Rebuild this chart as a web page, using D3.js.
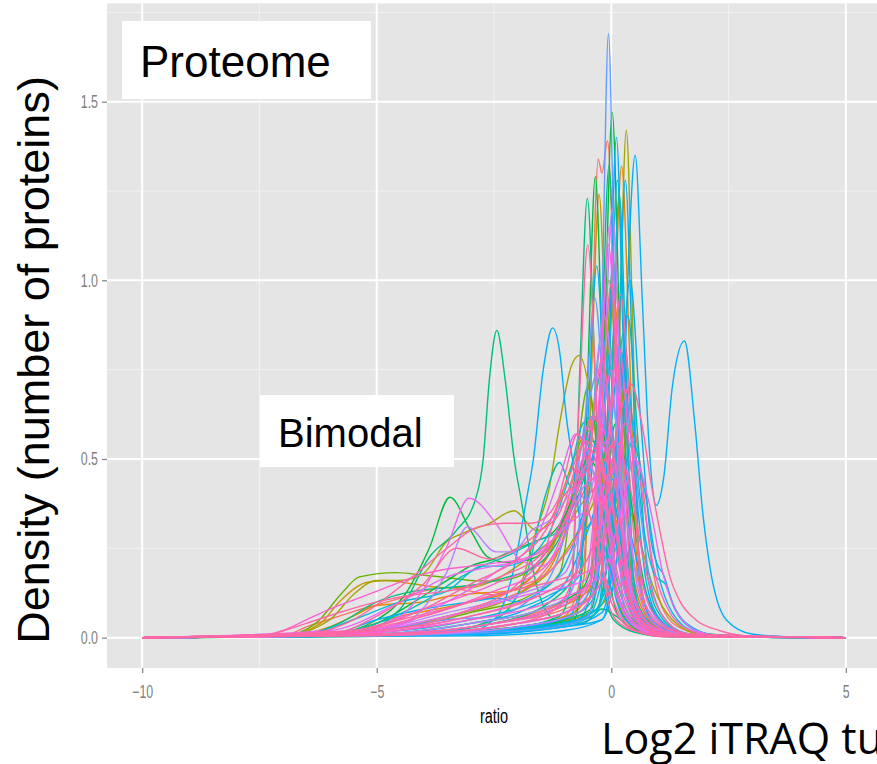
<!DOCTYPE html>
<html>
<head>
<meta charset="utf-8">
<script src="https://cdn.jsdelivr.net/npm/d3@7"></script>
<style>
  body { margin: 0; background: #fff; }
  svg { display: block; }
</style>
</head>
<body>
<div id="chart"></div>
<script>
// axis ticks
const ratioTicks = [-10, -5, 0, 5];
const ratioMinorTicks = [-7.5, -2.5, 2.5];
const densityTicks = [0, 0.5, 1.0, 1.5];
const densityMinorTicks = [0.25, 0.75, 1.25, 1.75];
// every density curve is evaluated from -10 to 5 (density 0 at both ends)
const ratioSpan = [-10, 5];

// samples: [colour level, [[ratio, density], ...]]
// tall, narrow peaks around ratio 0
const tallPeaks = [
  [10, [[-5,0.005],[-2.5,0.015],[-1.2,0.03],[-0.5,0.06],[-0.3,0.23],[-0.18,1.03],[-0.06,1.69],[0.06,1.03],[0.18,0.23],[0.3,0.06],[0.6,0.03],[1.2,0.01],[2,0.002]]],
  [5, [[-5,0.004],[-2.5,0.02],[-1,0.05],[-0.43,0.08],[-0.28,0.2],[-0.13,0.89],[0.02,1.47],[0.17,0.89],[0.32,0.2],[0.5,0.06],[0.9,0.02],[1.6,0.004]]],
  [3, [[-4,0.01],[-2,0.03],[-0.6,0.06],[-0.15,0.1],[0.04,0.19],[0.18,0.86],[0.32,1.42],[0.46,0.86],[0.6,0.19],[0.8,0.06],[1.1,0.02],[1.8,0.004]]],
  [0, [[-5,0.005],[-2.5,0.02],[-1,0.06],[-0.6,0.2],[-0.45,0.6],[-0.34,1.2],[-0.28,1.34],[-0.2,1.3],[-0.08,1.39],[0.05,1.0],[0.18,0.4],[0.35,0.1],[0.7,0.03],[1.3,0.006]]],
  [9, [[-4,0.008],[-1.5,0.03],[-0.5,0.06],[-0.17,0.19],[-0.03,0.85],[0.11,1.4],[0.25,0.85],[0.39,0.19],[0.6,0.05],[1,0.02],[1.6,0.004]]],
  [9, [[-3,0.005],[-1,0.02],[-0.2,0.05],[0.1,0.2],[0.25,0.6],[0.38,1.1],[0.51,1.35],[0.66,0.95],[0.8,0.55],[0.96,0.37],[1.12,0.45],[1.3,0.7],[1.56,0.83],[1.78,0.6],[1.95,0.35],[2.1,0.2],[2.45,0.05],[3,0.01],[3.8,0.002]]],
  [5, [[-5,0.004],[-2.5,0.02],[-1.2,0.04],[-0.79,0.05],[-0.64,0.17],[-0.49,0.78],[-0.34,1.29],[-0.19,0.78],[-0.04,0.17],[0.2,0.05],[0.7,0.015],[1.3,0.003]]],
  [6, [[-4,0.01],[-2,0.03],[-1.1,0.06],[-0.83,0.17],[-0.67,0.75],[-0.51,1.23],[-0.35,0.75],[-0.19,0.17],[0.05,0.05],[0.5,0.015],[1.2,0.003]]],
  [1, [[-4,0.008],[-1.5,0.03],[-0.4,0.06],[-0.12,0.18],[0.05,0.8],[0.22,1.32],[0.39,0.8],[0.56,0.18],[0.8,0.05],[1.2,0.015],[1.8,0.003]]],
  [8, [[-3.5,0.008],[-1.2,0.03],[-0.3,0.07],[-0.19,0.17],[-0.03,0.78],[0.13,1.28],[0.29,0.78],[0.45,0.17],[0.7,0.05],[1.1,0.015],[1.7,0.003]]],
  [7, [[-4,0.01],[-1.5,0.03],[-0.4,0.06],[-0.13,0.17],[0.02,0.75],[0.17,1.24],[0.32,0.75],[0.47,0.17],[0.7,0.05],[1.1,0.015],[1.7,0.003]]],
  [14, [[-5,0.005],[-2.5,0.03],[-1.3,0.07],[-0.86,0.15],[-0.68,0.67],[-0.5,1.1],[-0.32,0.67],[-0.14,0.15],[0.1,0.05],[0.6,0.015],[1.2,0.003]]],
  [9, [[-4,0.01],[-1.8,0.03],[-0.9,0.06],[-0.67,0.14],[-0.49,0.63],[-0.31,1.04],[-0.13,0.63],[0.05,0.14],[0.3,0.05],[0.8,0.015],[1.4,0.003]]],
  [11, [[-4,0.01],[-2,0.03],[-0.7,0.07],[-0.32,0.16],[-0.15,0.73],[0.02,1.2],[0.19,0.73],[0.36,0.16],[0.6,0.05],[1,0.015],[1.6,0.003]]],
  [12, [[-4.5,0.01],[-2.5,0.03],[-1,0.07],[-0.4,0.17],[-0.22,0.7],[-0.04,1.15],[0.14,0.7],[0.32,0.16],[0.55,0.05],[1,0.015],[1.6,0.003]]],
  [13, [[-5,0.01],[-3,0.03],[-1.2,0.08],[-0.46,0.16],[-0.26,0.67],[-0.06,1.1],[0.14,0.67],[0.34,0.15],[0.6,0.05],[1.05,0.015],[1.7,0.003]]],
  [14, [[-5,0.01],[-2.5,0.04],[-1,0.1],[-0.44,0.15],[-0.22,0.6],[0,0.99],[0.22,0.6],[0.44,0.14],[0.7,0.05],[1.1,0.02],[1.8,0.003]]],
  [14, [[-4.5,0.01],[-2,0.04],[-0.8,0.08],[-0.24,0.15],[-0.02,0.58],[0.2,0.96],[0.42,0.58],[0.64,0.14],[0.9,0.05],[1.3,0.02],[2,0.003]]],
  [2, [[-4.5,0.008],[-2,0.03],[-0.9,0.05],[-0.58,0.17],[-0.42,0.75],[-0.26,1.24],[-0.1,0.75],[0.06,0.17],[0.3,0.05],[0.8,0.015],[1.4,0.003]]],
  [4, [[-4,0.01],[-1.8,0.03],[-0.7,0.07],[-0.35,0.14],[-0.15,0.64],[0.05,1.05],[0.25,0.64],[0.45,0.14],[0.7,0.05],[1.1,0.015],[1.7,0.003]]],
  [6, [[-4,0.008],[-1.8,0.03],[-0.7,0.05],[-0.35,0.18],[-0.2,0.8],[-0.05,1.32],[0.1,0.8],[0.25,0.18],[0.5,0.05],[0.9,0.015],[1.5,0.003]]],
  [9, [[-3,0.008],[-1,0.03],[-0.2,0.05],[0,0.17],[0.15,0.78],[0.3,1.28],[0.45,0.78],[0.6,0.17],[0.85,0.05],[1.2,0.02],[1.9,0.003]]]
];

// medium peaks, broader, some with right-hand tails
const mediumPeaks = [
  [14, [[-5,0.02],[-3,0.06],[-1.5,0.12],[-0.6,0.2],[-0.1,0.4],[0.2,0.63],[0.42,0.71],[0.65,0.6],[0.85,0.43],[1.02,0.31],[1.25,0.17],[1.45,0.105],[1.8,0.05],[2.3,0.02],[3,0.004]]],
  [3, [[-4,0.01],[-2.5,0.05],[-2,0.12],[-1.6,0.3],[-1.32,0.42],[-1.1,0.6],[-0.85,0.76],[-0.68,0.79],[-0.45,0.68],[-0.2,0.4],[0.1,0.12],[0.4,0.04],[0.9,0.01],[1.5,0.002]]],
  [14, [[-5,0.02],[-3,0.08],[-2,0.15],[-1.4,0.25],[-1,0.45],[-0.72,0.57],[-0.45,0.45],[-0.2,0.2],[0.1,0.07],[0.5,0.02],[1.2,0.003]]],
  [13, [[-5.5,0.02],[-4,0.08],[-2.5,0.15],[-1.5,0.22],[-0.9,0.38],[-0.47,0.53],[-0.2,0.42],[0.1,0.15],[0.4,0.05],[0.9,0.01]]],
  [7, [[-4,0.01],[-2.5,0.05],[-1.8,0.18],[-1.4,0.4],[-1.1,0.49],[-0.85,0.42],[-0.6,0.45],[-0.3,0.7],[-0.1,0.8],[0.1,0.6],[0.35,0.2],[0.7,0.06],[1.2,0.012],[1.8,0.002]]],
  [12, [[-5,0.02],[-3.5,0.1],[-2.5,0.18],[-1.6,0.28],[-1.1,0.45],[-0.75,0.57],[-0.45,0.5],[-0.15,0.3],[0.2,0.1],[0.6,0.03],[1.2,0.004]]],
  [11, [[-5,0.01],[-3,0.04],[-1.5,0.08],[-0.9,0.12],[-0.65,0.25],[-0.4,0.6],[-0.15,0.9],[0.1,0.6],[0.35,0.18],[0.65,0.06],[1.1,0.015],[1.7,0.002]]],
  [1, [[-4.5,0.01],[-2.5,0.04],[-1,0.09],[-0.39,0.15],[-0.17,0.58],[0.05,0.95],[0.27,0.58],[0.49,0.16],[0.8,0.05],[1.3,0.01],[2,0.002]]],
  [8, [[-5,0.015],[-3,0.05],[-1.3,0.12],[-0.7,0.17],[-0.45,0.52],[-0.2,0.85],[0.05,0.52],[0.3,0.15],[0.6,0.05],[1.1,0.012],[1.8,0.002]]],
  [0, [[-5,0.01],[-2.5,0.04],[-1,0.1],[-0.38,0.14],[-0.14,0.53],[0.1,0.88],[0.34,0.53],[0.58,0.16],[0.9,0.05],[1.4,0.012],[2.1,0.002]]],
  [12, [[-5.5,0.015],[-3.5,0.06],[-1.8,0.12],[-0.56,0.16],[-0.28,0.46],[0,0.75],[0.28,0.46],[0.56,0.14],[0.9,0.04],[1.5,0.008]]],
  [13, [[-5,0.015],[-3,0.05],[-1.3,0.1],[-0.37,0.16],[-0.11,0.5],[0.15,0.82],[0.41,0.5],[0.67,0.15],[1,0.05],[1.6,0.01],[2.3,0.002]]],
  [10, [[-4.5,0.01],[-2.5,0.04],[-1.2,0.08],[-0.79,0.15],[-0.57,0.58],[-0.35,0.95],[-0.13,0.58],[0.09,0.15],[0.4,0.05],[1,0.01],[1.6,0.002]]],
  [9, [[-4,0.01],[-2,0.03],[-0.7,0.07],[-0.34,0.12],[-0.07,0.49],[0.2,0.8],[0.47,0.49],[0.74,0.16],[1.05,0.05],[1.5,0.015],[2.2,0.002]]],
  [14, [[-6,0.01],[-4,0.06],[-2.5,0.12],[-1.2,0.16],[-0.76,0.18],[-0.48,0.47],[-0.2,0.78],[0.08,0.47],[0.36,0.14],[0.7,0.04],[1.3,0.008]]],
  [7, [[-4,0.01],[-1.5,0.04],[-0.3,0.08],[-0.09,0.13],[0.13,0.55],[0.35,0.9],[0.57,0.55],[0.79,0.16],[1.05,0.06],[1.5,0.015],[2.2,0.002]]],
  [4, [[-5,0.02],[-3,0.07],[-1.7,0.12],[-1.1,0.18],[-0.8,0.43],[-0.5,0.7],[-0.2,0.43],[0.1,0.12],[0.45,0.03],[1,0.005]]],
  [2, [[-4,0.01],[-2,0.03],[-0.8,0.07],[-0.45,0.14],[-0.25,0.61],[-0.05,1.0],[0.15,0.61],[0.35,0.16],[0.6,0.05],[1.1,0.012],[1.8,0.002]]],
  [13, [[-5,0.015],[-3,0.06],[-1.5,0.12],[-0.6,0.18],[-0.3,0.2],[0,0.37],[0.3,0.6],[0.6,0.45],[0.9,0.2],[1.25,0.07],[1.7,0.02],[2.3,0.004]]],
  [9, [[-3,0.01],[-1,0.03],[-0.2,0.07],[0,0.2],[0.18,0.6],[0.4,1.0],[0.62,0.62],[0.84,0.28],[1,0.2],[1.1,0.18],[1.3,0.1],[1.6,0.04],[2.2,0.008]]],
  [8, [[-3,0.01],[-1,0.04],[-0.3,0.08],[-0.05,0.25],[0.1,0.55],[0.25,0.85],[0.45,0.6],[0.7,0.3],[0.95,0.17],[1.15,0.15],[1.35,0.08],[1.8,0.02],[2.5,0.003]]],
  [0, [[-4.5,0.01],[-2.5,0.04],[-1,0.08],[-0.4,0.12],[-0.05,0.3],[0.15,0.5],[0.35,0.65],[0.6,0.5],[0.85,0.22],[1.1,0.08],[1.5,0.025],[2.2,0.004]]],
  [5, [[-5,0.01],[-3,0.04],[-1.5,0.08],[-0.6,0.14],[-0.25,0.3],[0.1,0.6],[0.4,0.4],[0.7,0.15],[1,0.05],[1.5,0.012],[2.2,0.002]]],
  [11, [[-5.5,0.015],[-3.5,0.07],[-2,0.12],[-1,0.18],[-0.5,0.38],[-0.1,0.55],[0.25,0.38],[0.6,0.14],[0.95,0.05],[1.5,0.01]]],
  [10, [[-4,0.01],[-2,0.04],[-0.8,0.08],[-0.3,0.18],[0,0.45],[0.25,0.7],[0.5,0.48],[0.8,0.18],[1.1,0.06],[1.6,0.012],[2.3,0.002]]],
  [3, [[-5,0.02],[-3.5,0.06],[-2,0.12],[-1.2,0.2],[-0.6,0.32],[0,0.45],[0.5,0.32],[0.9,0.14],[1.3,0.05],[1.9,0.01]]],
  [12, [[-4,0.01],[-2,0.04],[-0.8,0.08],[-0.2,0.16],[0.2,0.35],[0.5,0.5],[0.8,0.38],[1.1,0.18],[1.4,0.07],[1.9,0.015],[2.6,0.002]]],
  [6, [[-4.5,0.01],[-2.5,0.04],[-1.3,0.1],[-0.7,0.2],[-0.4,0.48],[-0.15,0.72],[0.1,0.5],[0.4,0.18],[0.75,0.05],[1.3,0.01]]],
  [14, [[-6,0.01],[-4.5,0.05],[-3,0.1],[-2,0.14],[-1.2,0.2],[-0.6,0.32],[-0.2,0.48],[0.1,0.55],[0.4,0.42],[0.75,0.18],[1.1,0.06],[1.6,0.012]]],
  [9, [[-5,0.01],[-3,0.04],[-1.8,0.08],[-1,0.15],[-0.5,0.3],[-0.05,0.45],[0.35,0.32],[0.7,0.14],[1.1,0.04],[1.7,0.006]]],
  [13, [[-5.5,0.015],[-4,0.06],[-2.5,0.13],[-1.4,0.2],[-0.8,0.38],[-0.3,0.62],[0.05,0.45],[0.4,0.16],[0.8,0.04],[1.4,0.006]]],
  [8, [[-3.5,0.01],[-1.5,0.03],[-0.4,0.07],[0,0.2],[0.25,0.42],[0.45,0.55],[0.7,0.42],[1,0.18],[1.3,0.07],[1.8,0.015],[2.5,0.002]]],
  [1, [[-6,0.01],[-4.5,0.06],[-3,0.1],[-2,0.14],[-1.3,0.24],[-0.8,0.4],[-0.4,0.5],[0,0.38],[0.4,0.16],[0.8,0.04],[1.4,0.006]]]
];

// samples with a separate off-centre mode
const sidePeaks = [
  [9, [[-3.2,0.01],[-2.5,0.05],[-2.1,0.18],[-1.81,0.385],[-1.66,0.5],[-1.45,0.75],[-1.25,0.867],[-1.1,0.8],[-0.96,0.62],[-0.83,0.5],[-0.6,0.3],[-0.3,0.35],[0,0.4],[0.3,0.2],[0.6,0.06],[1.2,0.01],[1.8,0.002]]],
  [6, [[-5.5,0.01],[-4.5,0.08],[-3.88,0.225],[-3.3,0.3],[-2.9,0.385],[-2.73,0.5],[-2.6,0.72],[-2.44,0.86],[-2.26,0.72],[-2.07,0.5],[-1.92,0.385],[-1.6,0.15],[-1.2,0.05],[-0.6,0.04],[-0.2,0.08],[0.1,0.06],[0.5,0.02],[1.1,0.003]]]
];

// low, wide samples with long left shoulders (the bimodal group)
const shoulderCurves = [
  [5, [[-6,0.01],[-5,0.05],[-4.4,0.12],[-3.88,0.25],[-3.44,0.393],[-3,0.3],[-2.63,0.225],[-2.2,0.21],[-1.7,0.22],[-1.2,0.28],[-0.8,0.4],[-0.5,0.5],[-0.25,0.45],[0.05,0.2],[0.4,0.06],[0.9,0.012],[1.5,0.002]]],
  [12, [[-6,0.01],[-4.5,0.06],[-4.03,0.13],[-3.52,0.25],[-3.03,0.39],[-2.46,0.32],[-1.96,0.22],[-1.5,0.2],[-1,0.28],[-0.6,0.42],[-0.3,0.45],[0,0.3],[0.35,0.1],[0.8,0.02],[1.4,0.003]]],
  [11, [[-5.5,0.01],[-4.3,0.05],[-3.52,0.18],[-3.07,0.31],[-2.46,0.24],[-2.1,0.24],[-1.7,0.3],[-1.3,0.33],[-0.9,0.4],[-0.5,0.48],[-0.2,0.4],[0.15,0.15],[0.5,0.04],[1,0.008]]],
  [3, [[-7,0.005],[-6,0.05],[-5.5,0.12],[-5,0.16],[-4.5,0.16],[-4,0.18],[-3.5,0.27],[-3.2,0.29],[-2.6,0.32],[-2.07,0.355],[-1.6,0.3],[-1.2,0.35],[-0.8,0.5],[-0.5,0.58],[-0.2,0.45],[0.15,0.15],[0.5,0.04],[1,0.008]]],
  [14, [[-6.5,0.01],[-5.5,0.05],[-4.24,0.17],[-3.5,0.25],[-2.84,0.31],[-2.3,0.32],[-1.7,0.32],[-1.3,0.35],[-0.9,0.45],[-0.55,0.55],[-0.25,0.5],[0.1,0.2],[0.5,0.05],[1,0.01],[1.6,0.002]]],
  [14, [[-6,0.01],[-5,0.06],[-4,0.15],[-3.3,0.25],[-2.6,0.22],[-2,0.25],[-1.5,0.3],[-1.1,0.35],[-0.7,0.5],[-0.4,0.62],[-0.1,0.5],[0.25,0.17],[0.6,0.05],[1.1,0.01]]],
  [4, [[-7,0.005],[-6.3,0.04],[-5.74,0.125],[-5.37,0.17],[-4.58,0.182],[-4.03,0.175],[-3.5,0.168],[-3,0.16],[-2.5,0.158],[-2,0.17],[-1.5,0.22],[-1,0.32],[-0.6,0.45],[-0.3,0.5],[0,0.35],[0.35,0.12],[0.7,0.03],[1.2,0.005]]],
  [2, [[-7,0.005],[-6.2,0.04],[-5.8,0.1],[-5.2,0.155],[-4.8,0.16],[-4.2,0.15],[-3.6,0.14],[-3,0.14],[-2.5,0.16],[-2,0.2],[-1.5,0.25],[-1,0.3],[-0.6,0.38],[-0.3,0.42],[0,0.32],[0.35,0.12],[0.8,0.02],[1.4,0.003]]],
  [1, [[-7,0.005],[-6,0.03],[-5.5,0.06],[-5,0.09],[-4,0.1],[-3.5,0.115],[-2.75,0.125],[-2.2,0.13],[-1.7,0.15],[-1.2,0.22],[-0.8,0.38],[-0.5,0.55],[-0.25,0.6],[0.05,0.4],[0.4,0.12],[0.8,0.03],[1.4,0.004]]],
  [0, [[-7,0.005],[-6.5,0.03],[-5.8,0.06],[-5.2,0.085],[-4.5,0.11],[-4,0.13],[-3.5,0.14],[-3,0.13],[-2.5,0.12],[-2,0.14],[-1.5,0.2],[-1,0.35],[-0.6,0.55],[-0.35,0.62],[-0.1,0.5],[0.25,0.17],[0.6,0.05],[1.1,0.01]]],
  [8, [[-6.5,0.01],[-5.5,0.05],[-4.5,0.1],[-3.5,0.13],[-2.75,0.2],[-2.3,0.2],[-1.8,0.22],[-1.3,0.3],[-0.9,0.45],[-0.6,0.6],[-0.35,0.62],[-0.05,0.4],[0.3,0.12],[0.7,0.03],[1.3,0.004]]],
  [7, [[-6,0.01],[-5,0.04],[-4,0.1],[-3.2,0.17],[-2.75,0.2],[-2.2,0.23],[-1.6,0.27],[-1.1,0.3],[-0.7,0.4],[-0.4,0.5],[-0.1,0.45],[0.25,0.17],[0.6,0.05],[1.1,0.01]]],
  [9, [[-6,0.01],[-5,0.05],[-4,0.08],[-3,0.1],[-2.45,0.11],[-2,0.1],[-1.5,0.13],[-1,0.2],[-0.6,0.35],[-0.3,0.55],[-0.05,0.55],[0.25,0.25],[0.6,0.07],[1.1,0.012],[1.7,0.002]]],
  [10, [[-6,0.005],[-4.5,0.03],[-3.5,0.05],[-2.5,0.06],[-1.8,0.1],[-1.2,0.2],[-0.8,0.4],[-0.5,0.65],[-0.25,0.75],[0,0.6],[0.3,0.22],[0.7,0.05],[1.2,0.008]]],
  [13, [[-7.5,0.005],[-7,0.02],[-6.5,0.05],[-6,0.08],[-5.4,0.11],[-4.8,0.14],[-4.2,0.17],[-3.6,0.19],[-3,0.2],[-2.4,0.21],[-1.9,0.22],[-1.4,0.25],[-1,0.32],[-0.6,0.45],[-0.3,0.5],[0,0.38],[0.35,0.14],[0.8,0.03],[1.4,0.004]]],
  [14, [[-7.5,0.005],[-6.5,0.04],[-5.8,0.07],[-5,0.1],[-4.2,0.12],[-3.5,0.13],[-2.8,0.15],[-2.2,0.18],[-1.6,0.22],[-1.1,0.3],[-0.7,0.42],[-0.4,0.52],[-0.1,0.45],[0.25,0.17],[0.6,0.05],[1.1,0.01]]],
  [6, [[-6.5,0.01],[-5.8,0.04],[-5,0.1],[-4.2,0.13],[-3.5,0.14],[-2.8,0.15],[-2.2,0.17],[-1.6,0.2],[-1.1,0.28],[-0.7,0.42],[-0.4,0.55],[-0.15,0.5],[0.2,0.2],[0.55,0.05],[1,0.01]]],
  [5, [[-6,0.01],[-5,0.04],[-4.2,0.1],[-3.5,0.16],[-3,0.2],[-2.5,0.22],[-2,0.25],[-1.6,0.27],[-1.2,0.3],[-0.8,0.4],[-0.5,0.55],[-0.25,0.62],[0.05,0.45],[0.4,0.12],[0.8,0.03],[1.4,0.004]]],
  [14, [[-5.5,0.02],[-4,0.08],[-3,0.15],[-2,0.22],[-1.4,0.3],[-1.1,0.38],[-0.8,0.42],[-0.5,0.36],[-0.2,0.2],[0.2,0.06],[0.6,0.015],[1.2,0.002]]],
  [12, [[-6,0.02],[-4.5,0.1],[-3.5,0.17],[-2.5,0.2],[-1.8,0.22],[-1.2,0.28],[-0.8,0.33],[-0.55,0.35],[-0.25,0.28],[0.1,0.12],[0.5,0.03],[1,0.006]]],
  [0, [[-5,0.02],[-3.5,0.06],[-2.5,0.1],[-1.6,0.16],[-1.1,0.25],[-0.7,0.38],[-0.3,0.45],[0,0.35],[0.3,0.15],[0.7,0.04],[1.2,0.006]]]
];

(function () {
  const svgWidth = 877,
        svgHeight = 764;

  // ggplot2 default hue palette, 15 levels
  const hues = ["#F8766D", "#E58700", "#C99800", "#A3A500", "#6BB100", "#00BA38", "#00BF7D",
                "#00C0AF", "#00BCD8", "#00B0F6", "#619CFF", "#B983FF", "#E76BF3", "#FD61D1", "#FF67A4"];

  const panel = { left: 107, right: 881, top: 3.4, bottom: 668 };

  const svg = d3.select("#chart")
    .append("svg")
    .attr("width", svgWidth)
    .attr("height", svgHeight);

  const x = d3.scaleLinear().domain([-10.75, 5.75]).range([panel.left, panel.right]);
  const y = d3.scaleLinear().domain([-0.085, 1.775]).range([panel.bottom, panel.top]);

  // panel background + grid
  svg.append("rect")
    .attr("x", panel.left).attr("y", panel.top)
    .attr("width", panel.right - panel.left).attr("height", panel.bottom - panel.top)
    .attr("fill", "#E5E5E5");

  const grid = svg.append("g");
  grid.selectAll(".vminor").data(ratioMinorTicks).enter().append("line")
    .attr("x1", d => x(d)).attr("x2", d => x(d))
    .attr("y1", panel.top).attr("y2", panel.bottom)
    .attr("stroke", "#F2F2F2").attr("stroke-width", 1);
  grid.selectAll(".hminor").data(densityMinorTicks).enter().append("line")
    .attr("x1", panel.left).attr("x2", panel.right)
    .attr("y1", d => y(d)).attr("y2", d => y(d))
    .attr("stroke", "#F2F2F2").attr("stroke-width", 1);
  grid.selectAll(".vmajor").data(ratioTicks).enter().append("line")
    .attr("x1", d => x(d)).attr("x2", d => x(d))
    .attr("y1", panel.top).attr("y2", panel.bottom)
    .attr("stroke", "#FFFFFF").attr("stroke-width", 2);
  grid.selectAll(".hmajor").data(densityTicks).enter().append("line")
    .attr("x1", panel.left).attr("x2", panel.right)
    .attr("y1", d => y(d)).attr("y2", d => y(d))
    .attr("stroke", "#FFFFFF").attr("stroke-width", 2);

  // density curves, drawn level by level
  svg.append("clipPath").attr("id", "panelClip")
    .append("rect")
    .attr("x", panel.left).attr("y", panel.top)
    .attr("width", panel.right - panel.left).attr("height", panel.bottom - panel.top);

  const samples = [...tallPeaks, ...mediumPeaks, ...sidePeaks, ...shoulderCurves]
    .map((s, i) => ({ level: s[0], pts: [[ratioSpan[0], 0], ...s[1], [ratioSpan[1], 0]], i }))
    .sort((a, b) => a.level - b.level || a.i - b.i);

  const line = d3.line()
    .x(d => x(d[0]))
    .y(d => y(d[1]))
    .curve(d3.curveMonotoneX);

  svg.append("g")
    .attr("clip-path", "url(#panelClip)")
    .selectAll("path")
    .data(samples)
    .enter()
    .append("path")
    .attr("d", d => line(d.pts))
    .attr("fill", "none")
    .attr("stroke", d => hues[d.level])
    .attr("stroke-width", 1.4);

  // axes
  const tickFont = "'Liberation Sans', Arial, sans-serif";
  const squeeze = 0.69;

  const leftAxis = d3.axisLeft(y)
    .tickValues(densityTicks)
    .tickFormat(d3.format(".1f"))
    .tickSize(5)
    .tickPadding(4);
  const yAxis = svg.append("g")
    .attr("transform", `translate(${panel.left},0)`)
    .call(leftAxis);

  const bottomAxis = d3.axisBottom(x)
    .tickValues(ratioTicks)
    .tickFormat(d => d < 0 ? "\u2212" + Math.abs(d) : String(d))
    .tickSize(5)
    .tickPadding(12);
  const xAxis = svg.append("g")
    .attr("transform", `translate(0,${panel.bottom})`)
    .call(bottomAxis);

  [yAxis, xAxis].forEach(ax => {
    ax.select(".domain").remove();
    ax.selectAll(".tick line").attr("stroke", "#7F7F7F").attr("stroke-width", 1.2);
    ax.selectAll(".tick text")
      .attr("fill", "#7F7F7F")
      .attr("font-family", tickFont)
      .attr("font-size", 18);
  });
  yAxis.selectAll(".tick text")
    .attr("x", -9 / squeeze)
    .attr("transform", `scale(${squeeze},1)`);
  xAxis.selectAll(".tick text")
    .attr("transform", `scale(${squeeze},1)`);

  // ggplot x title
  svg.append("text")
    .attr("transform", `translate(${(panel.left + panel.right) / 2},723) scale(${squeeze},1)`)
    .attr("text-anchor", "middle")
    .attr("font-family", tickFont)
    .attr("font-size", 21)
    .attr("fill", "#000")
    .text("ratio");

  // slide annotations
  const bigFont = "'Liberation Sans', Arial, sans-serif";

  svg.append("rect")
    .attr("x", 122).attr("y", 21).attr("width", 249).attr("height", 78)
    .attr("fill", "#fff");
  svg.append("text")
    .attr("x", 140).attr("y", 77)
    .attr("font-family", bigFont).attr("font-size", 44)
    .attr("fill", "#000")
    .text("Proteome");

  svg.append("rect")
    .attr("x", 260).attr("y", 395).attr("width", 194).attr("height", 72)
    .attr("fill", "#fff");
  svg.append("text")
    .attr("x", 278).attr("y", 447)
    .attr("font-family", bigFont).attr("font-size", 40)
    .attr("fill", "#000")
    .text("Bimodal");

  svg.append("text")
    .attr("transform", "translate(49,360) rotate(-90)")
    .attr("text-anchor", "middle")
    .attr("font-family", bigFont).attr("font-size", 45)
    .attr("fill", "#000")
    .text("Density (number of proteins)");

  // slide caption, runs off the right edge as in the original
  svg.append("text")
    .attr("x", 601).attr("y", 754)
    .attr("font-family", "'Open Sans', Lato, sans-serif").attr("font-size", 43)
    .attr("fill", "#000")
    .text("Log2 iTRAQ tumour/normal");
})();
</script>
</body>
</html>
